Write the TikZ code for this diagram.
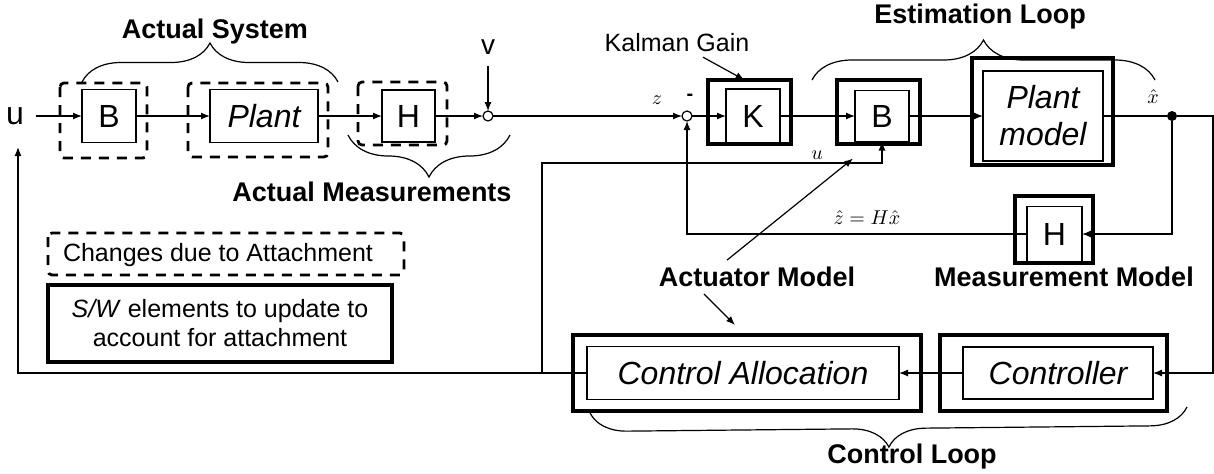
\documentclass[tikz,border=0pt]{standalone}
\usepackage{fontspec}
\setmainfont{Liberation Sans}
\usetikzlibrary{arrows.meta, positioning, calc, decorations.pathreplacing}

\newcommand{\blkfont}{\fontsize{16}{18.5}\selectfont}
\newcommand{\lblfont}{\fontsize{13.5}{16}\selectfont\bfseries}
\newcommand{\txtfont}{\fontsize{12.5}{14.5}\selectfont}

\begin{document}
\begin{tikzpicture}[x=0.5pt, y=-0.5pt,
    every node/.style={inner sep=0pt, outer sep=0pt},
    blk/.style={draw, line width=0.7pt, font=\blkfont, align=center},
    outerblk/.style={draw, line width=1.8pt},
    chg/.style={draw, line width=1.4pt, dash pattern=on 5pt off 4pt, rounded corners=2pt},
    sig/.style={-{Latex[length=4.5pt,width=3.5pt]}, line width=0.6pt},
    wire/.style={line width=0.6pt},
    junc/.style={draw, circle, line width=0.6pt, minimum size=5pt},
    brc/.style={decorate, decoration={brace, amplitude=#1}, line width=0.6pt}]
  \useasboundingbox (0,0) rectangle (1214,473);

  % S/W elements (thick outer boxes)
  \node[outerblk, minimum width=41.5pt, minimum height=32pt] (ko) at (749.5,112) {};
  \node[outerblk, minimum width=41.5pt, minimum height=32pt] (beo) at (878.5,112) {};
  \node[outerblk, minimum width=70.5pt, minimum height=53.5pt] (pmo) at (1042.5,111.5) {};
  \node[outerblk, minimum width=39pt, minimum height=33.5pt] (hmo) at (1054,229.5) {};
  \node[outerblk, minimum width=113.5pt, minimum height=38pt] (cto) at (1053.5,373) {};
  \node[outerblk, minimum width=174pt, minimum height=38pt] (cao) at (747,373) {};

  % changes due to attachment
  \draw[chg] (60,83) rectangle (147,158);
  \draw[chg] (188,83) rectangle (328,157);
  \draw[chg] (358,82) rectangle (447,145);

  % blocks
  \node[blk, minimum width=27pt, minimum height=26.5pt] (b1) at (109,116) {B};
  \node[blk, minimum width=54pt, minimum height=26.5pt] (plant) at (264,116) {\itshape Plant};
  \node[blk, minimum width=26.5pt, minimum height=26pt] (h1) at (408.5,116) {H};
  \node[junc] (nsum) at (488,116) {};
  \node[junc] (sum) at (687,116) {};
  \node[blk, minimum width=27pt, minimum height=27pt] (k) at (753,116) {K};
  \node[blk, minimum width=27pt, minimum height=25.5pt] (be) at (882,116) {B};
  \node[blk, minimum width=60pt, minimum height=45pt] (pm) at (1043,116) {\itshape Plant\\\itshape model};
  \node[circle, fill, minimum size=5pt] (dot) at (1172,116) {};
  \node[blk, minimum width=27.5pt, minimum height=27.5pt] (hm) at (1054.5,234) {H};
  \node[blk, minimum width=95pt, minimum height=26pt] (ct) at (1058,373) {\itshape Controller};
  \node[blk, minimum width=156pt, minimum height=26.5pt] (ca) at (743,373) {\itshape Control Allocation};

  % signal labels
  \node[font=\blkfont] (u) at (15,116) {u};
  \node[font=\fontsize{14}{16}\selectfont] (v) at (488,47) {v};
  \node (zl) at (657,100) {$z$};
  \node[font=\bfseries] (minus) at (690,97) {-};
  \node (xl) at (1153,97) {$\hat{x}$};
  \node (ul) at (817,155) {$u$};
  \node (zh) at (867,218) {$\hat{z} = H\hat{x}$};
  \coordinate (ufb) at (18,147);
  \coordinate (br) at (542,373);

  % titles
  \node[font=\txtfont] (kg) at (677,43) {Kalman Gain};
  \node[font=\lblfont] (as) at (215,32) {Actual System};
  \node[font=\lblfont] (amx) at (372,192) {Actual Measurements};
  \node[font=\lblfont] (el) at (980,17) {Estimation Loop};
  \node[font=\lblfont] (act) at (757,277) {Actuator Model};
  \node[font=\lblfont] (mm) at (1064,277) {Measurement Model};
  \node[font=\lblfont] (cl) at (912,457) {Control Loop};

  % legend
  \draw[chg] (48,233) rectangle (404,275);
  \node[font=\txtfont] (lg1) at (218,255) {Changes due to Attachment};
  \node[outerblk, minimum width=172pt, minimum height=38.5pt, font=\txtfont, align=center] (lg2) at (220,323.5) {\textit{S/W} elements to update to\\account for attachment};

  % connectors
  \draw[sig, shorten <=6pt] (u.east) -- (b1.west);
  \draw[sig] (b1) -- (plant);
  \draw[sig] (plant) -- (h1);
  \draw[sig] (h1) -- (nsum);
  \draw[sig, shorten <=6pt] (v.south) -- (nsum.north);
  \draw[sig] (nsum) -- (sum);
  \draw[sig] (sum) -- (k);
  \draw[sig] (k) -- (be);
  \draw[sig] (be) -- (pm);
  \draw[wire] (pm) -- (dot);
  \draw[sig] (dot.east) -- ++(36,0) |- (ct.east);
  \draw[sig] (dot) |- (hm.east);
  \draw[sig] (hm.west) -| (sum.south);
  \draw[sig] (ct) -- (ca);
  \draw[sig] (ca.west) -| (ufb);
  \draw[sig] (br) -- (542,163) -| (be.south);

  % pointers
  \draw[sig] ($(kg.south)+(26,5)$) -- ($(ko.north)+(-5,0)$);
  \draw[sig] ($(act.north)+(-30,-7)$) -- ($(be.south)+(-29,17)$);
  \draw[sig] ($(act.south)+(-53,7)$) -- ($(cao.north)+(-12,-10)$);

  % braces
  \draw[brc=19.5pt] (82,82) -- (338,82);
  \draw[brc=20pt] (812,80) -- (1155,80);
  \draw[brc=21pt] (510,135) -- (348,135);
  \draw[brc=18.5pt] (1187,407) -- (590,413);
\end{tikzpicture}
\end{document}
